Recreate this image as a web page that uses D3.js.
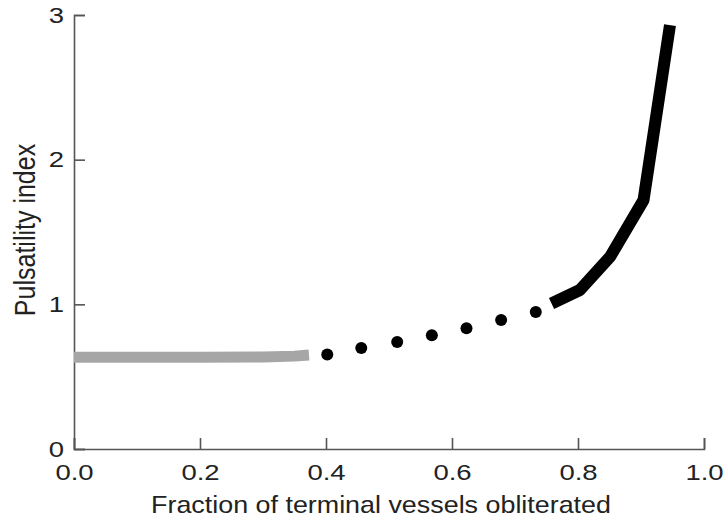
<!DOCTYPE html>
<html>
<head>
<meta charset="utf-8">
<script src="https://cdn.jsdelivr.net/npm/d3@7"></script>
<style>
  body { margin: 0; background: #fff; }
  text { font-family: "Liberation Sans", Arial, sans-serif; fill: #222; }
</style>
</head>
<body>
<div id="chart"></div>
<script>
// grey part (measured)
var greyX = [0.0, 0.1, 0.2, 0.3, 0.35, 0.373];
var greyY = [0.635, 0.635, 0.635, 0.636, 0.642, 0.65];
// dotted part
var dotX = [0.402, 0.456, 0.513, 0.568, 0.623, 0.678, 0.733];
var dotY = [0.654, 0.698, 0.739, 0.786, 0.834, 0.891, 0.947];
// black part
var blackX = [0.758, 0.803, 0.851, 0.904, 0.946];
var blackY = [1.006, 1.099, 1.329, 1.72, 2.93];

var xTicks = [0, 0.2, 0.4, 0.6, 0.8, 1.0];
var yTicks = [0, 1, 2, 3];

var width = 723, height = 518;
var margin = { left: 74, right: 19, top: 15, bottom: 69 };
var stretch = 1.25; // the reference type looks wide

var svg = d3.select('#chart')
    .append('svg')
    .attr('width', width)
    .attr('height', height);

var x = d3.scaleLinear()
    .domain([0, 1])
    .range([margin.left, width - margin.right]);

var y = d3.scaleLinear()
    .domain([0, 3])
    .range([height - margin.bottom, margin.top]);

var zip = function(xs, ys) {
    return xs.map(function(d, i) { return [d, ys[i]]; });
};

var line = d3.line()
    .x(function(d) { return x(d[0]); })
    .y(function(d) { return y(d[1]); });

// axes
var xAxis = svg.append('g')
    .attr('transform', 'translate(0,' + y(0) + ')')
    .call(d3.axisBottom(x).tickValues(xTicks).tickSize(-11)
        .tickFormat(d3.format('.1f')));

var yAxis = svg.append('g')
    .attr('transform', 'translate(' + x(0) + ',0)')
    .call(d3.axisLeft(y).tickValues(yTicks).tickSize(-11)
        .tickFormat(d3.format('d')));

[xAxis, yAxis].forEach(function(a) {
    a.select('.domain').attr('stroke', '#555').attr('stroke-width', 1.6);
    a.selectAll('.tick line').attr('stroke', '#555').attr('stroke-width', 1.6);
    a.selectAll('.tick text')
        .style('font-family', '"Liberation Sans", Arial, sans-serif')
        .style('font-size', '22px')
        .attr('fill', '#222')
        .attr('transform', 'scale(' + stretch + ',1)');
});
// tick label positions
xAxis.selectAll('.tick text').attr('x', 0).attr('y', 15);
yAxis.selectAll('.tick text').attr('x', -10 / stretch);

// data
svg.append('path')
    .attr('d', line(zip(greyX, greyY)))
    .attr('fill', 'none')
    .attr('stroke', '#a6a6a6')
    .attr('stroke-width', 11);

svg.selectAll('.dot')
    .data(zip(dotX, dotY))
    .enter().append('circle')
    .attr('class', 'dot')
    .attr('cx', function(d) { return x(d[0]); })
    .attr('cy', function(d) { return y(d[1]); })
    .attr('r', 6)
    .attr('fill', '#000');

svg.append('path')
    .attr('d', line(zip(blackX, blackY)))
    .attr('fill', 'none')
    .attr('stroke', '#000')
    .attr('stroke-width', 12)
    .attr('stroke-linejoin', 'round');

// labels
svg.append('text')
    .attr('transform', 'translate(381,513) scale(1.12,1)')
    .attr('text-anchor', 'middle')
    .style('font-size', '24px')
    .text('Fraction of terminal vessels obliterated');

svg.append('text')
    .attr('transform', 'translate(35,230) rotate(-90) scale(1,1.2)')
    .attr('text-anchor', 'middle')
    .style('font-size', '25px')
    .text('Pulsatility index');
</script>
</body>
</html>
